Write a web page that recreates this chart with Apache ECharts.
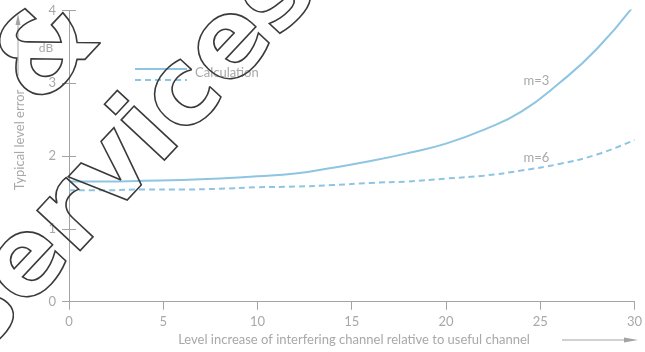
<!DOCTYPE html>
<html>
<head>
<meta charset="utf-8">
<script src="https://cdn.jsdelivr.net/npm/echarts@6/dist/echarts.min.js"></script>
<style>
  html, body { margin: 0; padding: 0; background: #ffffff; }
  #chart { width: 645px; height: 352px; }
</style>
</head>
<body>
<div id="chart"></div>
<script>
// Level increase of interfering channel (x) and typical level error in dB (y)
var levelIncrease = [0, 2, 4, 6, 8, 10, 12, 14, 16, 18, 20, 22, 24, 26, 28, 30];
var errorM3 = [1.65, 1.65, 1.66, 1.67, 1.69, 1.72, 1.76, 1.84, 1.93, 2.04, 2.17, 2.36, 2.61, 3.00, 3.47, 4.08];
var errorM6 = [1.53, 1.53, 1.54, 1.54, 1.55, 1.57, 1.58, 1.60, 1.63, 1.65, 1.69, 1.73, 1.80, 1.89, 2.02, 2.22];
var xTicks = [0, 5, 10, 15, 20, 25, 30];
var yTicks = [0, 1, 2, 3, 4];

var FONT = 'Lato';
var AXIS = '#a3a3a3';
var TEXT = '#a8a8a8';
var LINE = '#8ec5e2';

function pairs(xs, ys) {
  return xs.map(function (x, i) { return [x, ys[i]]; });
}

var chart = echarts.init(document.getElementById('chart'), null, { renderer: 'canvas' });

function xAxisDef(inside, show) {
  return {
    type: 'value', min: xTicks[0], max: xTicks[xTicks.length - 1], interval: 5,
    axisLine: { show: show, lineStyle: { color: AXIS, width: 1 } },
    axisTick: { show: true, inside: inside, length: 8, lineStyle: { color: AXIS, width: 1 } },
    axisLabel: { show: show, color: TEXT, fontFamily: FONT, fontSize: 13, margin: 14 },
    splitLine: { show: false }
  };
}
function yAxisDef(inside, show) {
  return {
    type: 'value', min: yTicks[0], max: yTicks[yTicks.length - 1], interval: 1,
    position: 'left',
    axisLine: { show: show, lineStyle: { color: AXIS, width: 1 } },
    axisTick: { show: true, inside: inside, length: 7, lineStyle: { color: AXIS, width: 1 } },
    axisLabel: { show: show, color: TEXT, fontFamily: FONT, fontSize: 13, margin: 13 },
    splitLine: { show: false }
  };
}

chart.setOption({
  animation: false,
  backgroundColor: '#ffffff',
  grid: { left: 69, right: 7, top: 10.5, bottom: 50.5 },
  xAxis: [xAxisDef(false, true), xAxisDef(true, false)],
  yAxis: [yAxisDef(false, true), yAxisDef(true, false)],
  series: [
    {
      name: 'm=3', type: 'line', smooth: true, showSymbol: false,
      data: pairs(levelIncrease, errorM3),
      lineStyle: { color: LINE, width: 2 }
    },
    {
      name: 'm=6', type: 'line', smooth: true, showSymbol: false,
      data: pairs(levelIncrease, errorM6),
      lineStyle: { color: LINE, width: 2, type: [6, 4] }
    }
  ]
});

function px(x, y) { return chart.convertToPixel({ gridIndex: 0 }, [x, y]); }

var pM3 = px(24.8, 3.04);
var pM6 = px(24.8, 1.98);
var outline = { fill: 'none', stroke: '#3a3a3a', lineWidth: 1.6, align: 'center', verticalAlign: 'middle' };
var tilt = 47 * Math.PI / 180;

chart.setOption({
  graphic: [
    // curve labels
    { type: 'text', x: pM3[0], y: pM3[1], style: { text: 'm=3', fill: TEXT, font: '13px ' + FONT, align: 'center', verticalAlign: 'middle' } },
    { type: 'text', x: pM6[0], y: pM6[1], style: { text: 'm=6', fill: TEXT, font: '13px ' + FONT, align: 'center', verticalAlign: 'middle' } },
    // legend
    { type: 'line', shape: { x1: 135, y1: 69, x2: 187, y2: 69 }, style: { stroke: LINE, lineWidth: 2 } },
    { type: 'line', shape: { x1: 135, y1: 80, x2: 187, y2: 80 }, style: { stroke: LINE, lineWidth: 2, lineDash: [6, 4] } },
    { type: 'text', x: 195, y: 73, style: { text: 'Calculation', fill: TEXT, font: '13px ' + FONT, verticalAlign: 'middle' } },
    // y axis title with arrow and unit
    { type: 'text', x: 20, y: 140, rotation: Math.PI / 2, style: { text: 'Typical level error', fill: TEXT, font: '13px ' + FONT, align: 'center', verticalAlign: 'middle' } },
    { type: 'line', shape: { x1: 18, y1: 76, x2: 18, y2: 22 }, style: { stroke: AXIS, lineWidth: 1 } },
    { type: 'polygon', shape: { points: [[18, 14], [15.5, 25], [20.5, 25]] }, style: { fill: AXIS } },
    { type: 'text', x: 46, y: 48, style: { text: 'dB', fill: TEXT, font: '12px ' + FONT, align: 'center', verticalAlign: 'middle' } },
    // x axis title with arrow
    { type: 'text', x: 354, y: 340, style: { text: 'Level increase of interfering channel relative to useful channel', fill: TEXT, font: '13px ' + FONT, align: 'center', verticalAlign: 'middle' } },
    { type: 'line', shape: { x1: 562, y1: 340, x2: 626, y2: 340 }, style: { stroke: AXIS, lineWidth: 1 } },
    { type: 'polygon', shape: { points: [[638, 340], [624, 337.5], [624, 342.5]] }, style: { fill: AXIS } },
    // outlined lettering laid over the plot
    { type: 'text', x: 130, y: 156, rotation: tilt, z: 100, style: Object.assign({ text: 'services', font: 'bold 108px "DejaVu Sans"' }, outline) },
    { type: 'text', x: 50, y: 55, rotation: tilt, z: 100, style: Object.assign({ text: '&', font: 'bold 110px "DejaVu Sans"' }, outline) }
  ]
});
</script>
</body>
</html>
